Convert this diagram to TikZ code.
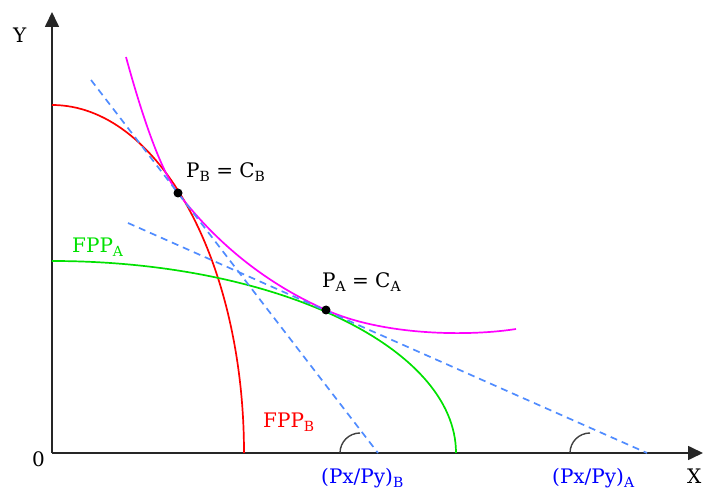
\documentclass[tikz,border=0pt]{standalone}
\usepackage{fontspec}
\setmainfont{DejaVu Serif}
\usetikzlibrary{arrows.meta}
\definecolor{tanblue}{RGB}{80,140,255}
\definecolor{fppgreen}{RGB}{0,225,0}
\definecolor{icmagenta}{RGB}{255,0,255}
\definecolor{lblblue}{RGB}{0,0,255}
\newcommand\lsub[1]{\raisebox{-4pt}{\fontsize{14}{14}\selectfont #1}}
\tikzset{
  axis/.style={line width=1.7pt, black!85, -{Triangle[length=15pt,width=14pt]}},
  curve/.style={line width=1.7pt},
  tangent/.style={line width=1.7pt, tanblue, dash pattern=on 7pt off 5pt},
  lbl/.style={anchor=base west, inner sep=0pt, font=\fontsize{20}{23}\selectfont},
  dot/.style={circle, fill=black, inner sep=0pt, minimum size=9pt},
  anglemark/.style={line width=1.4pt, black!75}
}
\begin{document}
\begin{tikzpicture}[x=1pt, y=1pt]
\useasboundingbox (-52,-43) rectangle (653,453);
% ejes
\coordinate (O) at (0,0);
\coordinate (xend) at (651,0);
\coordinate (yend) at (0,441);
\draw[axis] (O) -- (xend);
\draw[axis] (O) -- (yend);
\node[lbl] (xlbl) at (635,-30) {X};
\node[lbl] (ylbl) at (-39,410) {Y};
\node[lbl] (olbl) at (-20,-13) {0};
% fronteras de posibilidades
\draw[curve, red] (0,348) arc[start angle=90, end angle=0, x radius=192, y radius=348];
\draw[curve, fppgreen] (0,192) arc[start angle=90, end angle=0, x radius=404, y radius=192];
\node[lbl, fppgreen] (fppA) at (20,200) {FPP\lsub{A}};
\node[lbl, red] (fppB) at (211,26) {FPP\lsub{B}};
% puntos de equilibrio
\coordinate (PB) at (126,260);
\coordinate (PA) at (274,143);
% curva de indiferencia
\draw[curve, icmagenta] (74,396) .. controls (93.4,325.2) and (110.7,279.9) .. (PB)
  .. controls (166,208) and (215.3,169) .. (PA)
  .. controls (334,116.4) and (420,117) .. (464,124);
% rectas de precios
\coordinate (tB) at (39,373);
\coordinate (footB) at (326,0);
\coordinate (tA) at (76,230);
\coordinate (footA) at (595,0);
\draw[tangent] (tB) -- (footB);
\draw[tangent] (tA) -- (footA);
\draw[anglemark] (288,0) arc[start angle=180, end angle=90, radius=20];
\draw[anglemark] (518,0) arc[start angle=180, end angle=90, radius=20];
\node[lbl, lblblue] (pxB) at (269,-30) {(Px/Py)\lsub{B}};
\node[lbl, lblblue] (pxA) at (500,-30) {(Px/Py)\lsub{A}};
% puntos
\node[dot] (pb) at (PB) {};
\node[dot] (pa) at (PA) {};
\node[lbl] (pblbl) at (134,275) {P\lsub{B} = C\lsub{B}};
\node[lbl] (palbl) at (270,165) {P\lsub{A} = C\lsub{A}};
\end{tikzpicture}
\end{document}
